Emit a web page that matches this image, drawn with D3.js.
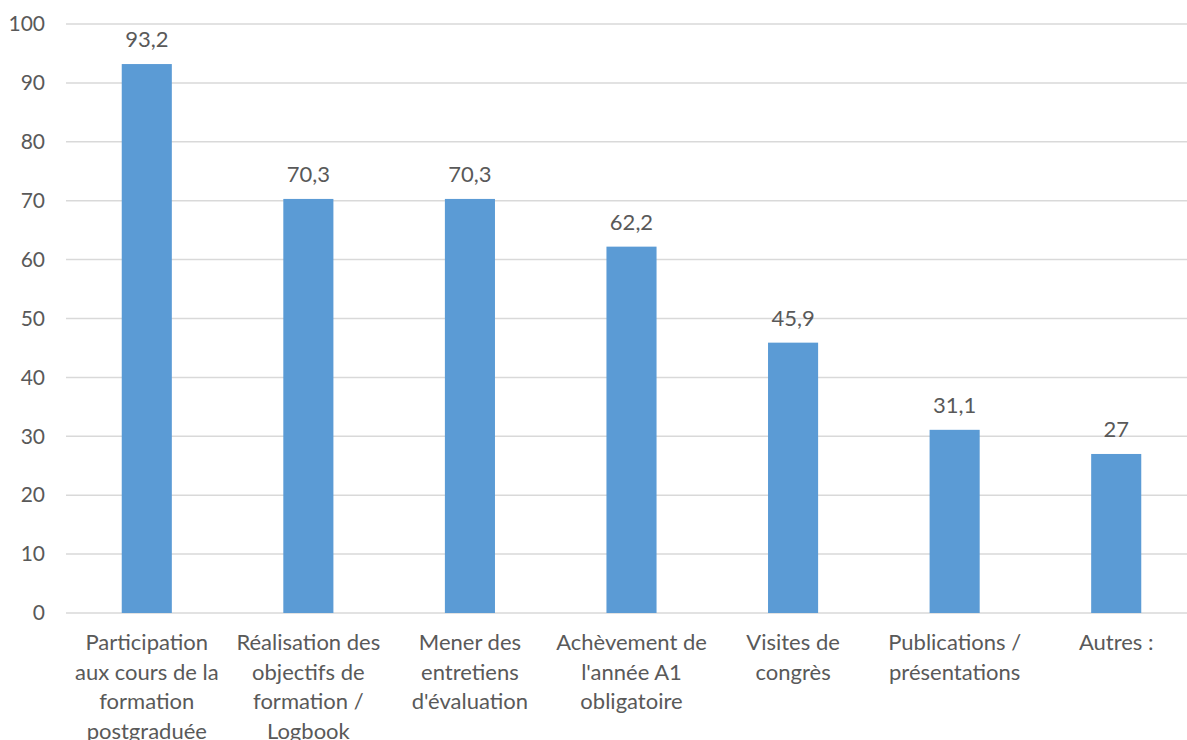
<!DOCTYPE html>
<html>
<head>
<meta charset="utf-8">
<script src="https://cdn.jsdelivr.net/npm/d3@7"></script>
<style>
  html, body { margin: 0; padding: 0; background: #fff; overflow: hidden; }
  svg { display: block; }
  text { font-family: Lato, "Open Sans", sans-serif; fill: #595959; }
</style>
</head>
<body>
<div id="chart"></div>
<script>
// Categories (line breaks as in the original axis labels)
const categories = [
  "Participation\naux cours de la\nformation\npostgraduée",
  "Réalisation des\nobjectifs de\nformation /\nLogbook",
  "Mener des\nentretiens\nd'évaluation",
  "Achèvement de\nl'année A1\nobligatoire",
  "Visites de\ncongrès",
  "Publications /\nprésentations",
  "Autres :"
];
const values = [93.2, 70.3, 70.3, 62.2, 45.9, 31.1, 27];
const valueLabels = ["93,2", "70,3", "70,3", "62,2", "45,9", "31,1", "27"];
const yTicks = [0, 10, 20, 30, 40, 50, 60, 70, 80, 90, 100];

const W = 1187, H = 740;
const margin = { top: 24, left: 66, bottom: 127 };
const plotRight = 1197; // plot runs slightly past the visible edge

const svg = d3.select("#chart").append("svg")
  .attr("width", W)
  .attr("height", H);

const x = d3.scaleBand()
  .domain(d3.range(categories.length))
  .range([margin.left, plotRight])
  .paddingInner(0.69)
  .paddingOuter(0.345);

const y = d3.scaleLinear()
  .domain([0, 100])
  .range([H - margin.bottom, margin.top]);

// gridlines
svg.append("g")
  .selectAll("line")
  .data(yTicks)
  .join("line")
  .attr("x1", margin.left)
  .attr("x2", plotRight)
  .attr("y1", d => y(d))
  .attr("y2", d => y(d))
  .attr("stroke", "#d9d9d9")
  .attr("stroke-width", 1.5);

// y axis labels
const yAxis = svg.append("g")
  .attr("transform", `translate(${margin.left},0)`)
  .call(d3.axisLeft(y).tickValues(yTicks).tickSize(0).tickPadding(21));
yAxis.select(".domain").remove();
yAxis.selectAll("text")
  .style("font-size", "21px")
  .attr("fill", "#595959");

// bars
svg.append("g")
  .selectAll("rect")
  .data(values)
  .join("rect")
  .attr("x", (d, i) => x(i))
  .attr("y", d => y(d))
  .attr("width", x.bandwidth())
  .attr("height", d => y(0) - y(d))
  .attr("fill", "#5b9bd5");

// value labels
svg.append("g")
  .selectAll("text")
  .data(values)
  .join("text")
  .attr("x", (d, i) => x(i) + x.bandwidth() / 2)
  .attr("y", d => y(d) - 17)
  .attr("text-anchor", "middle")
  .style("font-size", "22px")
  .attr("fill", "#404040")
  .text((d, i) => valueLabels[i]);

// category labels
const cat = svg.append("g")
  .selectAll("text")
  .data(categories)
  .join("text")
  .attr("x", (d, i) => x(i) + x.bandwidth() / 2)
  .attr("y", y(0) + 37)
  .attr("text-anchor", "middle")
  .style("font-size", "22px");

cat.each(function (d) {
  const t = d3.select(this);
  const xPos = t.attr("x");
  d.split("\n").forEach((line, k) => {
    t.append("tspan")
      .attr("x", xPos)
      .attr("dy", k === 0 ? 0 : 29.5)
      .text(line);
  });
});
</script>
</body>
</html>
